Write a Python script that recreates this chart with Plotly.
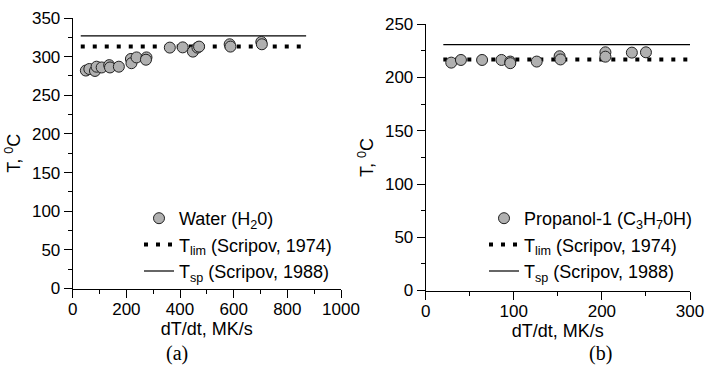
import plotly.graph_objects as go

# ---- data ----
water_x = [49, 62, 83, 89, 108, 136, 139, 172, 217, 219, 238, 275, 273, 362, 410, 448, 465, 471, 585, 588, 703, 705]
water_y = [282, 284, 281.5, 287, 286, 289, 286, 287, 297, 291.5, 299, 299, 296, 311.7, 312, 306.5, 311.7, 313, 316, 313, 319, 316]
water_tlim = 313
water_tsp = 327
water_line_x = [30, 870]

prop_x = [29, 40, 64, 86, 96, 96, 126, 152, 153, 204, 204, 234, 250]
prop_y = [214, 216.5, 216.5, 216.5, 215, 213.5, 215, 220, 217, 223.7, 219.6, 223.4, 223.7]
prop_tlim = 217
prop_tsp = 231
prop_line_x = [20, 300]

FONT = "Liberation Sans, Arial, sans-serif"
MARK = dict(size=11, color="#b0b0b0", line=dict(color="#202020", width=1))
DOT = dict(color="black", width=4, dash="4px,8px")
SOLID = dict(color="black", width=1.2)

fig = go.Figure()

# lines first (drawn below markers)
fig.add_trace(go.Scatter(x=water_line_x, y=[water_tlim] * 2, mode="lines", line=DOT, legendrank=2,
                         name="T<sub>lim</sub> (Scripov, 1974)", xaxis="x", yaxis="y", legend="legend"))
fig.add_trace(go.Scatter(x=water_line_x, y=[water_tsp] * 2, mode="lines", line=SOLID, legendrank=3,
                         name="T<sub>sp</sub> (Scripov, 1988)", xaxis="x", yaxis="y", legend="legend"))
fig.add_trace(go.Scatter(x=water_x, y=water_y, mode="markers", marker=MARK, legendrank=1,
                         name="Water (H<sub>2</sub>0)", xaxis="x", yaxis="y", legend="legend"))

fig.add_trace(go.Scatter(x=prop_line_x, y=[prop_tlim] * 2, mode="lines", line=DOT, legendrank=2,
                         name="T<sub>lim</sub> (Scripov, 1974)", xaxis="x2", yaxis="y2", legend="legend2"))
fig.add_trace(go.Scatter(x=prop_line_x, y=[prop_tsp] * 2, mode="lines", line=SOLID, legendrank=3,
                         name="T<sub>sp</sub> (Scripov, 1988)", xaxis="x2", yaxis="y2", legend="legend2"))
fig.add_trace(go.Scatter(x=prop_x, y=prop_y, mode="markers", marker=MARK, legendrank=1,
                         name="Propanol-1 (C<sub>3</sub>H<sub>7</sub>0H)", xaxis="x2", yaxis="y2", legend="legend2"))

W, H = 706, 382


def ax(**kw):
    base = dict(showgrid=False, zeroline=False, showline=True, linecolor="black", linewidth=1,
                ticks="outside", ticklen=8, tickwidth=1, tickcolor="black", automargin=False,
                tickfont=dict(family=FONT, size=17, color="black"),
                title_font=dict(family=FONT, size=18, color="black"))
    base.update(kw)
    return base


LEG = dict(xanchor="left", yanchor="top", bgcolor="rgba(0,0,0,0)",
           font=dict(family=FONT, size=18, color="black"), traceorder="normal",
           tracegroupgap=0, itemwidth=30)

fig.update_layout(
    width=W, height=H, margin=dict(l=0, r=0, t=0, b=0, autoexpand=False),
    paper_bgcolor="white", plot_bgcolor="white",
    font=dict(family=FONT, size=16, color="black"),
    xaxis=ax(domain=[72.7 / W, 341 / W], range=[0, 1000], dtick=200, anchor="y", ticklabelstandoff=-3,
             minor=dict(dtick=100, ticks="outside", ticklen=4, tickcolor="black"),
             title=dict(text="dT/dt, MK/s", standoff=1)),
    yaxis=ax(domain=[1 - 288.5 / H, 1 - 18 / H], range=[0, 350], dtick=50, anchor="x",
             minor=dict(dtick=25, ticks="outside", ticklen=4, tickcolor="black"),
             title=dict(text="T, <sup>0</sup>C", standoff=6)),
    xaxis2=ax(domain=[425.7 / W, 690 / W], range=[0, 300], dtick=100, anchor="y2", ticklabelstandoff=-3,
              minor=dict(dtick=50, ticks="outside", ticklen=4, tickcolor="black"),
              title=dict(text="dT/dt, MK/s", standoff=1)),
    yaxis2=ax(domain=[1 - 290.5 / H, 1 - 24.3 / H], range=[0, 250], dtick=50, anchor="x2",
              minor=dict(dtick=25, ticks="outside", ticklen=4, tickcolor="black"),
              title=dict(text="T, <sup>0</sup>C", standoff=6)),
    legend=dict(x=139 / W, y=1 - 200 / H, **LEG),
    legend2=dict(x=484 / W, y=1 - 200 / H, **LEG),
    showlegend=True,
    annotations=[
        dict(text="(a)", x=164 / W, y=1 - 367 / H, xref="paper", yref="paper", showarrow=False,
             font=dict(family="Liberation Serif, Times New Roman, serif", size=20, color="black")),
        dict(text="(b)", x=614 / W, y=1 - 367 / H, xref="paper", yref="paper", showarrow=False,
             font=dict(family="Liberation Serif, Times New Roman, serif", size=20, color="black")),
    ],
)

fig.write_html("out.html", config={"displayModeBar": False},
               post_script="document.body.style.margin='0';document.body.style.overflow='hidden';")
